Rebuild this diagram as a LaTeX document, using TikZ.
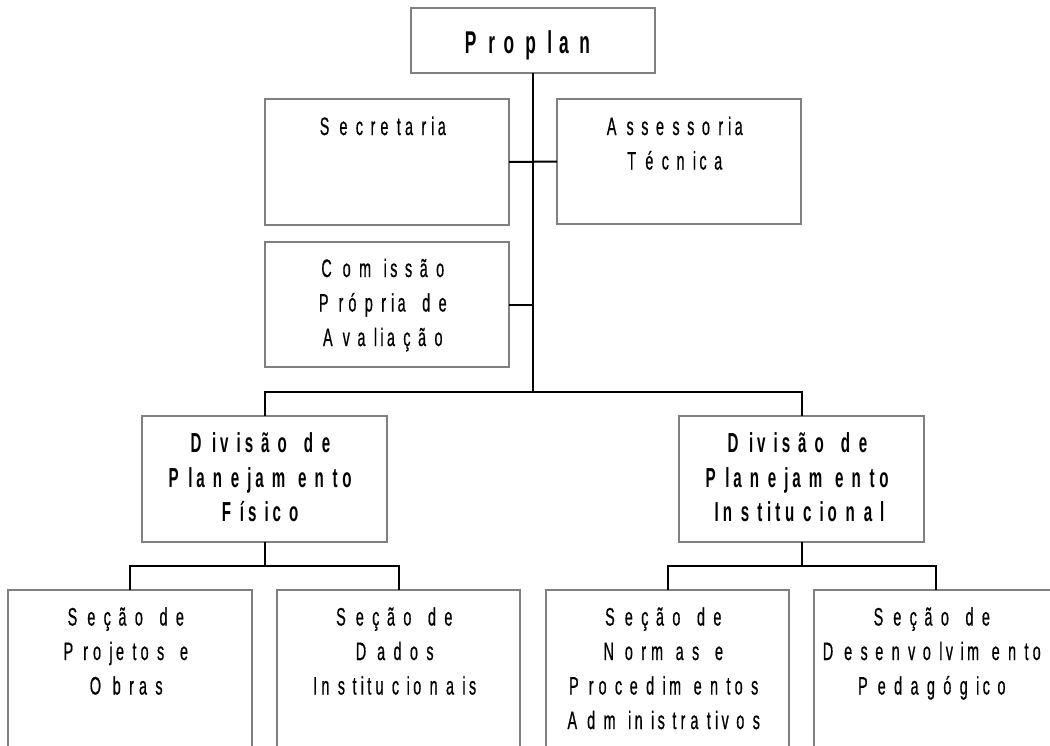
\documentclass[tikz,border=0pt]{standalone}
\usepackage{fontspec}
\usetikzlibrary{calc}
\newfontfamily\advfont{Liberation Sans}
\newfontfamily\glyR{Liberation Sans}[FakeStretch=0.57,FakeBold=0.6]
\newfontfamily\glyB{Liberation Sans}[FakeStretch=0.55]
\definecolor{boxgray}{RGB}{128,128,128}
\newbox\spbox
\def\spend{SPEND}
\newcommand\spchar[1]{\setbox\spbox\hbox{\advfont\fontsize{\spadv}{\spadv}\selectfont#1}%
  \hbox to\wd\spbox{\spglyfont\fontsize{\spgly}{\spgly}\selectfont#1\hss}\kern\spextra}
\def\sploop#1{\ifx\spend#1\else\spchar{#1}\expandafter\sploop\fi}
\newcommand\txtR[1]{{\def\spadv{29.5}\def\spgly{25.2}\def\spextra{0pt}\let\spglyfont\glyR\sploop#1\spend}}
\newcommand\txtB[1]{{\bfseries\def\spadv{29.5}\def\spgly{27.5}\def\spextra{0pt}\let\spglyfont\glyB\sploop#1\spend}}
\newcommand\txtP[1]{{\bfseries\def\spadv{31}\def\spgly{31.5}\def\spextra{3pt}\let\spglyfont\glyB\sploop#1\spend}}
\newcommand\stack[1]{\vtop{\baselineskip=34.5pt\lineskiplimit=-100pt\lineskip=0pt\halign{\hfil##\hfil\cr#1\crcr}}}
\begin{document}
\begin{tikzpicture}[x=1pt,y=-1pt,
  box/.style={draw=boxgray, line width=2pt, minimum width=244pt, minimum height=125pt,
    inner sep=0pt, outer sep=0pt, anchor=north west},
  conn/.style={draw=black, line width=2pt},
  lbl/.style={inner sep=0pt, outer sep=0pt, anchor=base}]
\useasboundingbox (0,0) rectangle (1050,745);
\clip (0,0) rectangle (1050,745);
% boxes
\node[box, minimum height=65pt] (proplan) at (411,8) {};
\node[box, minimum height=126pt] (sec) at (265,99) {};
\node[box, minimum height=125pt] (ass) at (557,99) {};
\node[box] (com) at (265,242) {};
\node[box, minimum width=245pt, minimum height=126pt] (divf) at (142,416) {};
\node[box, minimum width=245pt, minimum height=126pt] (divi) at (679,416) {};
\node[box, minimum height=200pt] (s1) at (8,590) {};
\node[box, minimum height=200pt, minimum width=243pt] (s2) at (277,590) {};
\node[box, minimum height=200pt, minimum width=243pt] (s3) at (546,590) {};
\node[box, minimum height=200pt] (s4) at (814,590) {};
% connectors
\coordinate (bar) at (533,392);
\draw[conn] (proplan.south) -- (bar);
\draw[conn] (sec.east) -- (ass.west);
\draw[conn] (com.east) -- (com.east -| bar);
\draw[conn] (divf.north) -- (divf.north |- bar) -- (divi.north |- bar) -- (divi.north);
\coordinate (barf) at ($(divf.south)+(0,23.5)$);
\draw[conn] (divf.south) -- (barf);
\draw[conn] (s1.north) -- (s1.north |- barf) -- (s2.north |- barf) -- (s2.north);
\coordinate (bari) at ($(divi.south)+(0,23.5)$);
\draw[conn] (divi.south) -- (bari);
\draw[conn] (s3.north) -- (s3.north |- bari) -- (s4.north |- bari) -- (s4.north);
% texts
\node[lbl] (tprop) at ($(proplan.north)+(0,45)$) {\txtP{Proplan}};
\node[lbl] (tsec) at ($(sec.north)+(0,36)$) {\stack{\txtR{Secretaria}}};
\node[lbl] (tass) at ($(ass.north)+(0,36)$) {\stack{\txtR{Assessoria}\cr\txtR{Técnica}}};
\node[lbl] (tcom) at ($(com.north)+(0,35)$) {\stack{\txtR{Comissão}\cr\txtR{Própria~de}\cr\txtR{Avaliação}}};
\node[lbl] (tdivf) at ($(divf.north)+(0,36.5)$) {\stack{\txtB{Divisão~de}\cr\txtB{Planejamento}\cr\txtB{Físico}}};
\node[lbl] (tdivi) at ($(divi.north)+(0,36.5)$) {\stack{\txtB{Divisão~de}\cr\txtB{Planejamento}\cr\txtB{Institucional}}};
\node[lbl] (ts1) at ($(s1.north)+(0,35.5)$) {\stack{\txtR{Seção~de}\cr\txtR{Projetos~e}\cr\txtR{Obras}}};
\node[lbl] (ts2) at ($(s2.north)+(0,35.5)$) {\stack{\txtR{Seção~de}\cr\txtR{Dados}\cr\txtR{Institucionais}}};
\node[lbl] (ts3) at ($(s3.north)+(0,35.5)$) {\stack{\txtR{Seção~de}\cr\txtR{Normas~e}\cr\txtR{Procedimentos}\cr\txtR{Administrativos}}};
\node[lbl] (ts4) at ($(s4.north)+(0,35.5)$) {\stack{\txtR{Seção~de}\cr\txtR{Desenvolvimento}\cr\txtR{Pedagógico}}};
\end{tikzpicture}
\end{document}
